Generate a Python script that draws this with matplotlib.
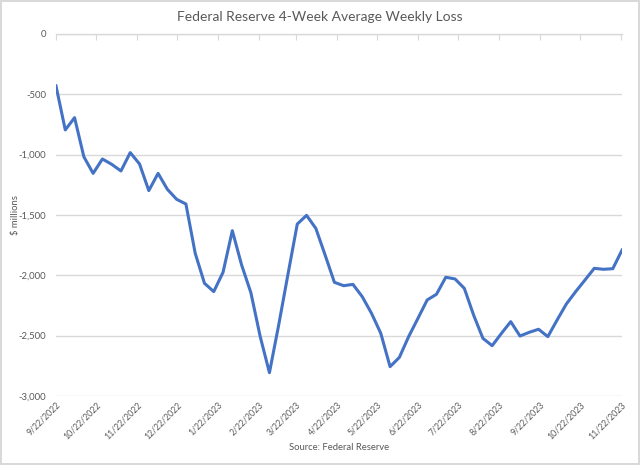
import datetime as dt
import matplotlib.pyplot as plt
import matplotlib.dates as mdates
from matplotlib.ticker import FuncFormatter

# weekly values, $ millions
start = dt.date(2022, 9, 22)
loss = [-430, -795, -693, -1017, -1155, -1036, -1080, -1135, -983, -1077,
        -1298, -1155, -1287, -1370, -1409, -1817, -2066, -2135, -1975, -1630,
        -1914, -2144, -2506, -2807, -2410, -1990, -1575, -1503, -1611, -1832,
        -2058, -2086, -2075, -2177, -2315, -2481, -2757, -2680, -2508, -2357,
        -2204, -2157, -2016, -2030, -2108, -2329, -2522, -2583, -2481, -2384,
        -2503, -2472, -2447, -2508, -2370, -2237, -2135, -2039, -1942, -1950,
        -1945, -1790]
weeks = [start + dt.timedelta(days=7 * i) for i in range(len(loss))]
yticks = [0, -500, -1000, -1500, -2000, -2500, -3000]

gray = '#595959'
plt.rcParams['font.family'] = ['Lato', 'DejaVu Sans']

fig = plt.figure(figsize=(6.4, 4.65), dpi=100, linewidth=1.5, edgecolor='#d9d9d9')
ax = fig.add_axes([0.0875, 0.1484, 0.8845, 0.7785])

ax.plot(weeks, loss, color='#4472C4', lw=2.2, solid_joinstyle='round')

ax.set_xlim(weeks[0], weeks[-1])
ax.set_ylim(-3000, 0)
ax.set_yticks(yticks)
ax.yaxis.set_major_formatter(FuncFormatter(lambda v, p: f'{int(v):,}'))
ax.grid(axis='y', color='#d9d9d9', lw=1)
ax.set_axisbelow(True)

ax.xaxis.set_major_locator(mdates.MonthLocator(bymonthday=22))
ax.xaxis.set_major_formatter(FuncFormatter(
    lambda v, p: '{0.month}/{0.day}/{0.year}'.format(mdates.num2date(v))))

for s in ['left', 'right', 'bottom']:
    ax.spines[s].set_visible(False)
ax.spines['top'].set_color('#d9d9d9')
ax.spines['top'].set_linewidth(1)

ax.tick_params(axis='y', length=0, labelsize=6.8, labelcolor=gray, pad=7)
ax.tick_params(axis='x', bottom=False, top=True, labelbottom=True, labeltop=False,
               direction='in', length=4, color='#d9d9d9', labelsize=6.3,
               labelcolor=gray, pad=3)
for lab in ax.get_xticklabels():
    lab.set_rotation(45)
    lab.set_ha('right')
    lab.set_rotation_mode('anchor')

fig.text(0.5, 0.963, 'Federal Reserve 4-Week Average Weekly Loss', ha='center',
         va='center', fontsize=10, color=gray)
fig.text(0.024, 0.537, '$ millions', rotation=90, ha='center', va='center',
         fontsize=6.8, color=gray)
fig.text(0.53, 0.037, 'Source: Federal Reserve', ha='center', va='center',
         fontsize=6.8, color=gray)

fig.savefig('out.png', dpi=100)
